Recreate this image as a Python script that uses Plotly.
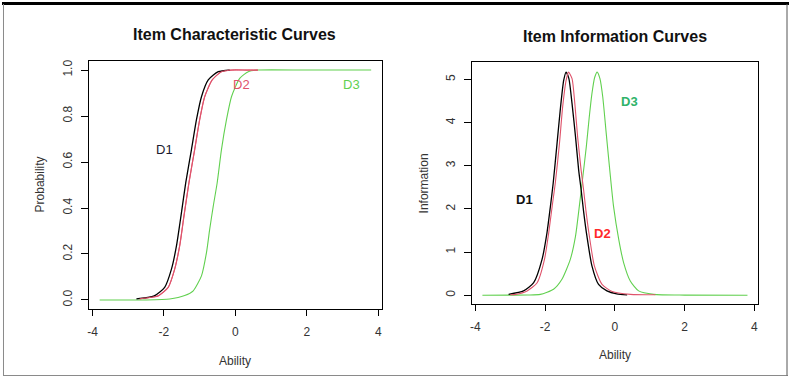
import plotly.graph_objects as go

# ---------------- data ----------------
# Item Characteristic Curves (Probability vs Ability)
icc_d1_ability = [-2.77, -2.5, -2.26, -1.98, -1.79, -1.65, -1.51, -1.39, -1.23, -1.09, -0.95, -0.76, -0.48, -0.16]
icc_d1_prob = [0.005, 0.01, 0.019, 0.055, 0.134, 0.235, 0.38, 0.51, 0.654, 0.784, 0.884, 0.957, 0.993, 1.0]

icc_d2_ability = [-2.68, -2.49, -2.16, -1.88, -1.70, -1.56, -1.44, -1.30, -1.14, -1.00, -0.86, -0.65, -0.39, -0.11, 0.30, 0.63]
icc_d2_prob = [0.005, 0.009, 0.018, 0.055, 0.134, 0.235, 0.365, 0.51, 0.654, 0.784, 0.884, 0.957, 0.993, 1.0, 1.0, 1.0]

icc_d3_ability = [-3.8, -2.5, -1.84, -1.42, -1.18, -0.95, -0.81, -0.72, -0.62, -0.51, -0.39, -0.25, -0.11, 0.12, 0.36, 0.63, 2.0, 3.8]
icc_d3_prob = [0.0, 0.0, 0.004, 0.019, 0.04, 0.105, 0.206, 0.307, 0.408, 0.51, 0.654, 0.784, 0.884, 0.964, 0.993, 1.0, 1.0, 1.0]

# Item Information Curves (Information vs Ability)
iic_d1_ability = [-3.05, -2.62, -2.33, -2.09, -1.95, -1.85, -1.77, -1.66, -1.56, -1.47, -1.40, -1.32, -1.23, -1.13, -1.04, -0.97, -0.90, -0.80, -0.66, -0.47, -0.23, 0.05, 0.35]
iic_d1_info = [0.02, 0.1, 0.29, 0.83, 1.44, 2.06, 2.6, 3.52, 4.36, 4.98, 5.17, 5.02, 4.44, 3.67, 2.9, 2.45, 1.95, 1.35, 0.68, 0.25, 0.1, 0.03, 0.01]

iic_d2_ability = [-3.0, -2.85, -2.52, -2.23, -2.02, -1.90, -1.80, -1.71, -1.59, -1.50, -1.40, -1.33, -1.23, -1.15, -1.07, -0.97, -0.90, -0.83, -0.73, -0.59, -0.37, -0.08, 0.44, 1.16]
iic_d2_info = [0.01, 0.02, 0.1, 0.29, 0.83, 1.44, 2.06, 2.6, 3.52, 4.36, 4.98, 5.17, 5.02, 4.44, 3.67, 2.9, 2.45, 1.95, 1.35, 0.68, 0.25, 0.085, 0.02, 0.01]

iic_d3_ability = [-3.8, -2.5, -2.14, -1.76, -1.52, -1.28, -1.13, -1.03, -0.92, -0.82, -0.74, -0.66, -0.58, -0.51, -0.43, -0.35, -0.25, -0.13, -0.04, 0.11, 0.25, 0.44, 0.68, 1.11, 2.0, 3.8]
iic_d3_info = [0.0, 0.005, 0.02, 0.14, 0.37, 0.83, 1.37, 2.0, 2.75, 3.45, 4.1, 4.67, 5.05, 5.17, 5.02, 4.6, 3.75, 2.75, 2.06, 1.29, 0.75, 0.33, 0.1, 0.02, 0.003, 0.0]

x_ticks = [-4, -2, 0, 2, 4]
x_tick_labels = ["-4", "-2", "0", "2", "4"]
icc_y_ticks = [0.0, 0.2, 0.4, 0.6, 0.8, 1.0]
icc_y_tick_labels = ["0.0", "0.2", "0.4", "0.6", "0.8", "1.0"]
iic_y_ticks = [0, 1, 2, 3, 4, 5]
iic_y_tick_labels = ["0", "1", "2", "3", "4", "5"]

titles = ["Item Characteristic Curves", "Item Information Curves"]
series_names = ["D1", "D2", "D3"]

# ---------------- figure ----------------
W, H = 789, 377
FONT = "Liberation Sans, Arial, sans-serif"
BLACK = "#000000"
RED = "#DF536B"
GREEN = "#61D04F"

fig = go.Figure()

def line(x, y, color, width, xa, ya):
    fig.add_trace(go.Scatter(x=x, y=y, mode="lines", xaxis=xa, yaxis=ya,
                             line=dict(color=color, width=width, shape="spline", smoothing=0.6),
                             showlegend=False, hoverinfo="skip"))

line(icc_d3_ability, icc_d3_prob, GREEN, 1.1, "x", "y")
line(icc_d2_ability, icc_d2_prob, RED, 1.2, "x", "y")
line(icc_d1_ability, icc_d1_prob, BLACK, 1.3, "x", "y")
line(icc_d2_ability, icc_d2_prob, RED, 1.0, "x", "y")

line(iic_d3_ability, iic_d3_info, GREEN, 1.1, "x2", "y2")
line(iic_d1_ability, iic_d1_info, BLACK, 1.3, "x2", "y2")
line(iic_d2_ability, iic_d2_info, RED, 1.1, "x2", "y2")

def px(v):
    return v / W

def py(v):
    return 1 - v / H

tickfont = dict(family=FONT, size=12, color="#333333")
common_x = dict(range=[-4.104, 4.104], tickmode="array", tickvals=x_ticks, ticktext=x_tick_labels,
                ticks="outside", ticklen=6, tickwidth=1, tickcolor=BLACK, showline=True,
                linecolor=BLACK, linewidth=1, mirror=True, showgrid=False, zeroline=False,
                tickfont=tickfont, fixedrange=True)
common_y = dict(ticks="outside", ticklen=7, tickwidth=1, tickcolor=BLACK, showline=True,
                linecolor=BLACK, linewidth=1, mirror=True, showgrid=False, zeroline=False,
                tickfont=tickfont, tickangle=-90, tickmode="array", fixedrange=True)

fig.update_layout(
    width=W, height=H, margin=dict(l=0, r=0, t=0, b=0),
    paper_bgcolor="white", plot_bgcolor="white", showlegend=False,
    xaxis=dict(domain=[px(87), px(381)], anchor="y", ticklabelstandoff=5, **common_x),
    yaxis=dict(domain=[py(309), py(60)], anchor="x", range=[-0.04, 1.04],
               tickvals=icc_y_ticks, ticktext=icc_y_tick_labels, ticklabelstandoff=4, **common_y),
    xaxis2=dict(domain=[px(471), px(758)], anchor="y2", ticklabelstandoff=5, **common_x),
    yaxis2=dict(domain=[py(304), py(61)], anchor="x2", range=[-0.208, 5.408],
                tickvals=iic_y_ticks, ticktext=iic_y_tick_labels, ticklabelstandoff=4, **common_y),
)

ann = []

def pann(text, x, y, font, angle=0):
    ann.append(dict(text=text, x=px(x), y=py(y), xref="paper", yref="paper", showarrow=False,
                    xanchor="center", yanchor="middle", textangle=angle, font=font))

# titles
tfont = dict(family=FONT, size=16, color="#111111")
pann("<b>%s</b>" % titles[0], 233, 34, tfont)
pann("<b>%s</b>" % titles[1], 615, 36, tfont)
# axis titles
axfont = dict(family=FONT, size=12, color="#333333")
pann("Ability", 234, 361, axfont)
pann("Ability", 615, 355, axfont)
pann("Probability", 38, 184, axfont, -90)
pann("Information", 423, 183, axfont, -90)

# curve labels
lab = dict(family=FONT, size=13)
def dann(text, x, y, xr, yr, color):
    ann.append(dict(text=text, x=x, y=y, xref=xr, yref=yr, showarrow=False,
                    xanchor="center", yanchor="middle", font=dict(color=color, **lab)))

dann(series_names[0], -1.99, 0.655, "x", "y", "#1a1a2e")
dann(series_names[1], 0.17, 0.935, "x", "y", RED)
dann(series_names[2], 3.24, 0.935, "x", "y", GREEN)
dann("<b>%s</b>" % series_names[0], -2.6, 2.21, "x2", "y2", "#111111")
dann("<b>%s</b>" % series_names[1], -0.36, 1.43, "x2", "y2", "#FF2A2A")
dann("<b>%s</b>" % series_names[2], 0.42, 4.49, "x2", "y2", "#2FB36A")
fig.update_layout(annotations=ann)

# outer frame of the picture
fig.add_shape(type="line", xref="paper", yref="paper", x0=0, x1=1, y0=py(2.5), y1=py(2.5),
              line=dict(color="#000000", width=3))
fig.add_shape(type="line", xref="paper", yref="paper", x0=px(1.5), x1=px(1.5), y0=py(375.5), y1=py(3),
              line=dict(color="#8a8a8a", width=1))
fig.add_shape(type="line", xref="paper", yref="paper", x0=px(1), x1=px(788), y0=py(375.5), y1=py(375.5),
              line=dict(color="#8a8a8a", width=1))
fig.add_shape(type="line", xref="paper", yref="paper", x0=px(787), x1=px(787), y0=py(375.5), y1=py(3),
              line=dict(color="#555555", width=1))

fig.write_html("out.html", config={"displayModeBar": False},
               post_script="document.body.style.margin='0';document.body.style.padding='0';"
                           "document.documentElement.style.overflow='hidden';")
